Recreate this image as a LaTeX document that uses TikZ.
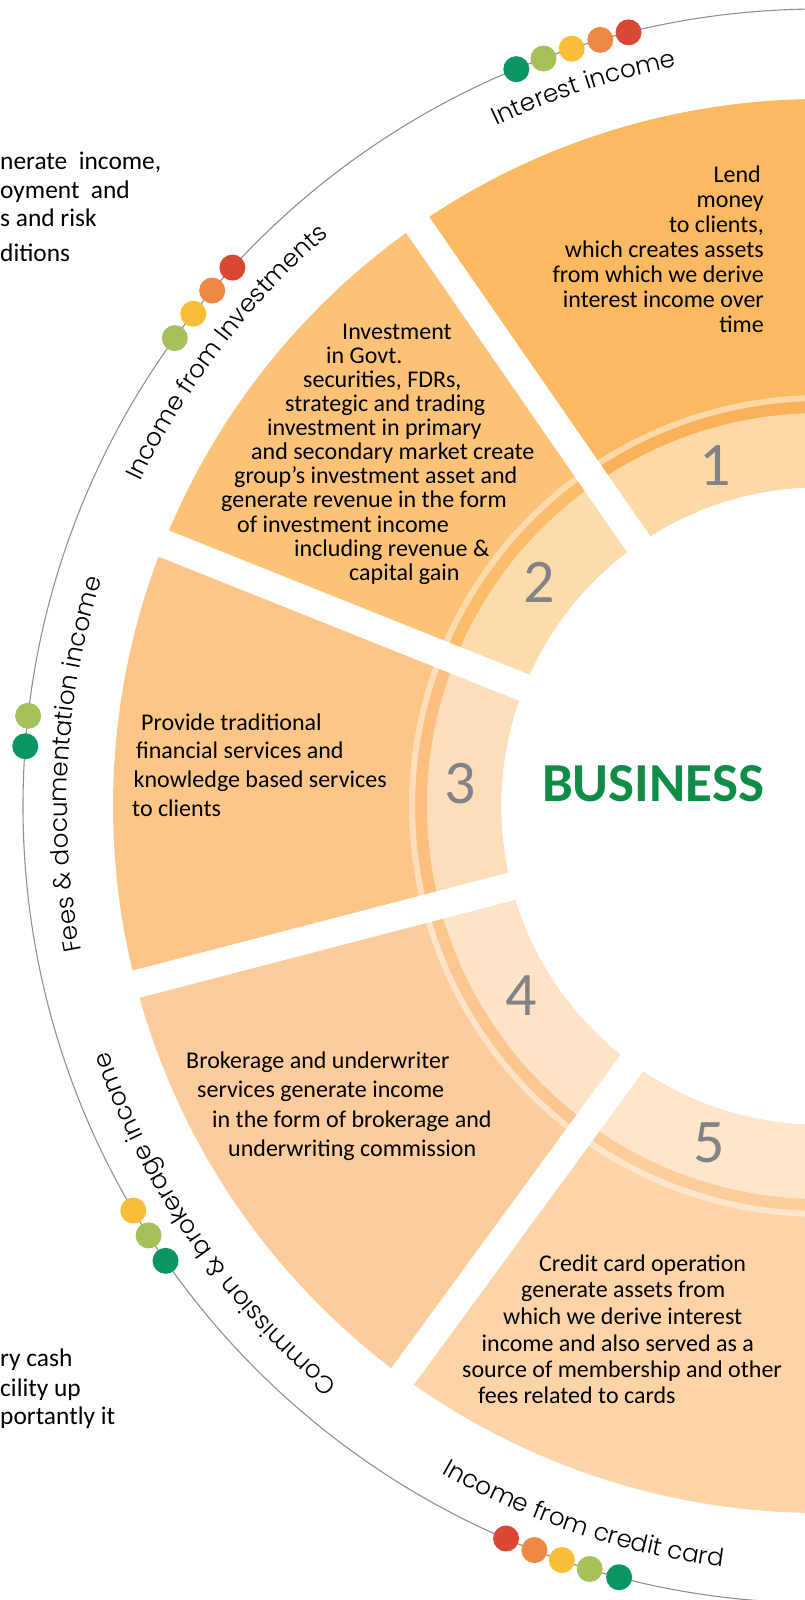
\documentclass[tikz,border=0pt]{standalone}
\usepackage{fontspec}
\setmainfont{Carlito}
\IfFontExistsTF{Poppins Light}{\newfontfamily\arcfont{Poppins Light}}{\newfontfamily\arcfont{Poppins}}
\usetikzlibrary{decorations.text}
\newcommand\arclabel{\arcfont\fontsize{24.6}{30}\selectfont}

\begin{document}
\begin{tikzpicture}[x=1pt,y=1pt,line cap=round,line join=round]
\definecolor{seg1}{HTML}{FBB962}\definecolor{band1}{HTML}{F9B25A}\definecolor{light1}{HTML}{FDD9A7}
\definecolor{seg2}{HTML}{FCC378}\definecolor{band2}{HTML}{FBBC6C}\definecolor{light2}{HTML}{FDDCAC}
\definecolor{seg3}{HTML}{FCC689}\definecolor{band3}{HTML}{FBC07F}\definecolor{light3}{HTML}{FEDEBA}
\definecolor{seg4}{HTML}{FDCC9C}\definecolor{band4}{HTML}{FCC691}\definecolor{light4}{HTML}{FEE3C6}
\definecolor{seg5}{HTML}{FDD4A7}\definecolor{band5}{HTML}{FCCD9B}\definecolor{light5}{HTML}{FEE6CD}
\definecolor{numgray}{HTML}{828386}
\definecolor{rimgray}{HTML}{909090}
\definecolor{bizgreen}{HTML}{0F8C45}
\definecolor{dotgreen}{HTML}{0A9660}
\definecolor{dotlime}{HTML}{A6C15A}
\definecolor{dotyellow}{HTML}{F8BE37}
\definecolor{dotorange}{HTML}{EF8844}
\definecolor{dotred}{HTML}{DA4835}

\tikzset{
bodytext/.style={inner sep=0pt, font=\fontsize{24}{25}\selectfont, text=black},
sidetext/.style={inner sep=0pt, anchor=base west, font=\fontsize{25.4}{28}\selectfont, text=black},
numtext/.style={inner sep=0pt, font=\fontsize{62}{62}\selectfont, text=numgray},
gapline/.style={white, line width=28pt, line cap=butt},
rimline/.style={draw=rimgray, line width=1.1pt},
arcpath/.style={decorate, decoration={text along path, text align=center, text={|\arclabel|#1}}}
}

\useasboundingbox (0,0) rectangle (805,-1600);
\clip (0,0) rectangle (805,-1600);
\coordinate (c) at (820,-806);

\begin{scope}[shift={(c)}]
% wheel segments
\foreach \a/\b/\base/\band/\light in {124.7/60/seg1/band1/light1, 158.2/124.7/seg2/band2/light2,
  194.6/158.2/seg3/band3/light3, 233.8/194.6/seg4/band4/light4, 300/233.8/seg5/band5/light5} {
  \fill[\base] (\a:707) arc[start angle=\a, end angle=\b, radius=707] -- (\b:319)
    arc[start angle=\b, end angle=\a, radius=319] -- cycle;
  \fill[\band] (\a:405) arc[start angle=\a, end angle=\b, radius=405] -- (\b:393)
    arc[start angle=\b, end angle=\a, radius=393] -- cycle;
  \draw[\light, line width=6pt, line cap=butt] (\a:408) arc[start angle=\a, end angle=\b, radius=408];
  \fill[\light] (\a:393) arc[start angle=\a, end angle=\b, radius=393] -- (\b:319)
    arc[start angle=\b, end angle=\a, radius=319] -- cycle;
}
\foreach \g in {124.7,158.2,194.6,233.8}
  \draw[gapline] (\g:300) -- (\g:730);

% outer rim and dots
\draw[rimline] (0,0) circle[radius=797];
\foreach \ang/\col in {112.4/dotgreen, 110.3/dotlime, 108.15/dotyellow, 106.0/dotorange, 103.9/dotred,
  144.05/dotlime, 141.85/dotyellow, 139.7/dotorange, 137.5/dotred,
  173.5/dotlime, 175.7/dotgreen,
  210.5/dotyellow, 212.6/dotlime, 214.8/dotgreen,
  246.8/dotred, 249.0/dotorange, 251.1/dotyellow, 253.2/dotlime, 255.4/dotgreen}
  \fill[\col] (\ang:797) circle[radius=13];

% curved labels
\path[arcpath={Interest income}] (128.2:753) arc[start angle=128.2, end angle=88.2, radius=753];
\path[arcpath={Income from Investments}] (162.6:753) arc[start angle=162.6, end angle=122.6, radius=753];
\path[arcpath={Fees {\&} documentation income}] (196.8:753) arc[start angle=196.8, end angle=156.8, radius=753];
\path[arcpath={Commission {\&} brokerage income}] (234.6:753) arc[start angle=234.6, end angle=194.6, radius=753];
\path[arcpath={Income from credit card}] (231.6:767) arc[start angle=231.6, end angle=271.6, radius=767];

% numbers
\node[numtext] (num1) at (107.1:356) {1};
\node[numtext] (num2) at (141.4:359) {2};
\node[numtext] (num3) at (176.5:360) {3};
\node[numtext] (num4) at (212.3:354) {4};
\node[numtext] (num5) at (251.8:355) {5};
\node[inner sep=0pt, font=\bfseries\fontsize{55}{55}\selectfont, text=bizgreen] (biz) at (-167,22) {BUSINESS};
\end{scope}

% segment texts
\foreach \x/\y/\t [count=\i] in {761/182/{Lend}, 764/207/{money}, 764/232/{to clients,},
  764/257/{which creates assets}, 764/282/{from which we derive}, 764/307/{interest income over}, 764/332/{time}}
  \node[bodytext, anchor=base east] (lend\i) at (\x,-\y) {\t};

\foreach \x/\y/\t [count=\i] in {342/339/{Investment}, 326/363/{in Govt.}, 303/387/{securities, FDRs,},
  285/411/{strategic and trading}, 267/435/{investment in primary}, 251/459/{and secondary market create},
  234/483/{group’s investment asset and}, 221/507/{generate revenue in the form}, 237/532/{of investment income},
  294/556/{including revenue \&}, 349/580/{capital gain}}
  \node[bodytext, anchor=base west] (invest\i) at (\x,-\y) {\t};

\foreach \x/\y/\t [count=\i] in {141/730/{Provide traditional}, 136/758/{financial services and},
  133.5/787/{knowledge based services}, 132/816/{to clients}}
  \node[bodytext, anchor=base west] (fees\i) at (\x,-\y) {\t};

\foreach \x/\y/\t [count=\i] in {186/1068/{Brokerage and underwriter}, 197/1097/{services generate income},
  212/1127/{in the form of brokerage and}, 228/1156/{underwriting commission}}
  \node[bodytext, anchor=base west] (broker\i) at (\x,-\y) {\t};

\foreach \x/\y/\t [count=\i] in {539/1271/{Credit card operation}, 521/1297/{generate assets from},
  503/1324/{which we derive interest}, 481.5/1351/{income and also served as a},
  462/1377/{source of membership and other}, 478/1403/{fees related to cards}}
  \node[bodytext, anchor=base west] (card\i) at (\x,-\y) {\t};

% cut-off side notes
\node[sidetext] (side1) at (0,-169) {nerate\ \ income,};
\node[sidetext] (side2) at (0,-198) {oyment\ \ and};
\node[sidetext] (side3) at (0,-226) {s and risk};
\node[sidetext] (side4) at (0,-261) {ditions};
\node[sidetext] (side5) at (0,-1366) {ry cash};
\node[sidetext] (side6) at (0,-1396) {cility up};
\node[sidetext] (side7) at (0,-1424) {portantly it};
\end{tikzpicture}
\end{document}
